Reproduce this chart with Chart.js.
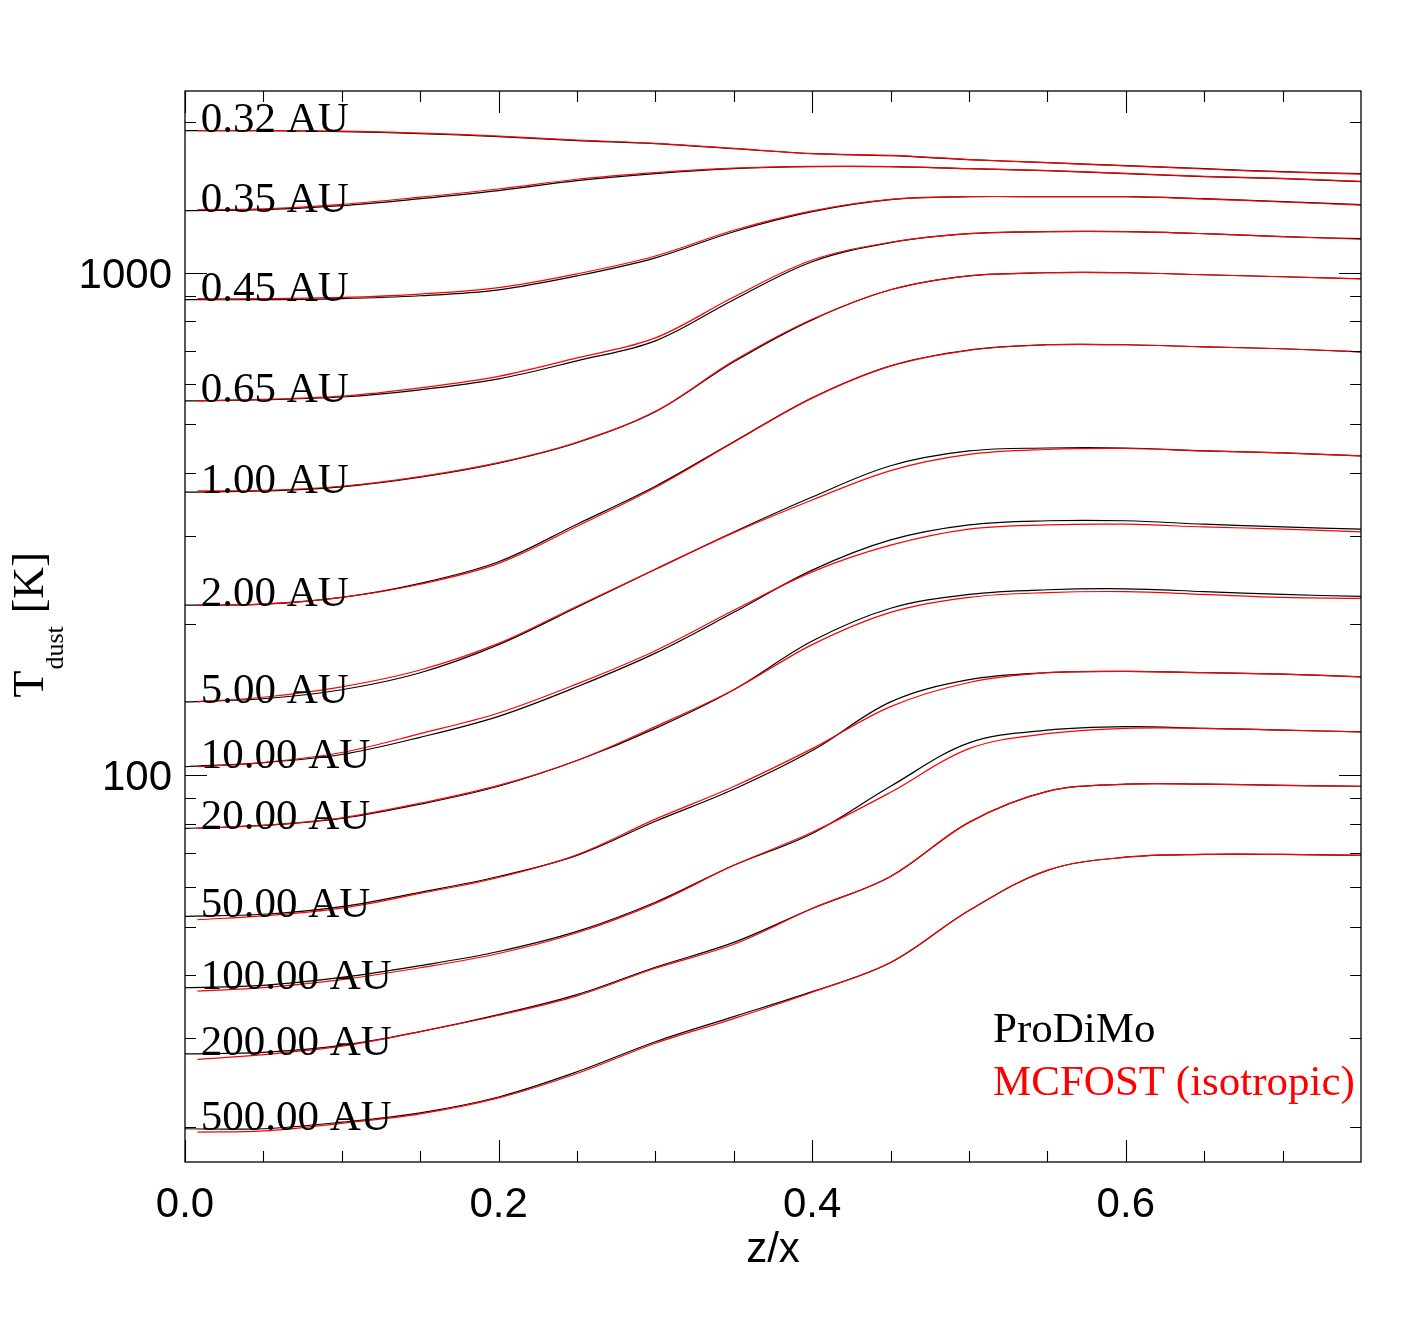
<!DOCTYPE html>
<html>
<head>
<meta charset="utf-8">
<title>T_dust vertical profiles: ProDiMo vs MCFOST</title>
<script src="https://cdn.jsdelivr.net/npm/chart.js@4.4.1/dist/chart.umd.min.js"></script>
<style>
  html, body { margin: 0; padding: 0; background: #ffffff; }
  canvas { display: block; }
</style>
</head>
<body>
<canvas id="tdustChart" width="1417" height="1337"></canvas>
<script>
// z/x sample positions (MCFOST grid starts a touch off the midplane)
const zProdimo = [0.0, 0.05, 0.1, 0.15, 0.2, 0.25, 0.3, 0.35, 0.4, 0.45, 0.5, 0.55, 0.6, 0.65, 0.7, 0.75];
const zMcfost  = [0.008, 0.05, 0.1, 0.15, 0.2, 0.25, 0.3, 0.35, 0.4, 0.45, 0.5, 0.55, 0.6, 0.65, 0.7, 0.75];

const radiusLabels = ['0.32 AU', '0.35 AU', '0.45 AU', '0.65 AU', '1.00 AU', '2.00 AU', '5.00 AU',
                      '10.00 AU', '20.00 AU', '50.00 AU', '100.00 AU', '200.00 AU', '500.00 AU'];

// ProDiMo dust temperature [K]
const prodimo032 = [1918, 1918, 1909, 1892, 1866, 1832, 1807, 1766, 1726, 1710, 1679, 1656, 1634, 1611, 1589, 1575];
const prodimo035 = [1329, 1335, 1360, 1404, 1457, 1525, 1575, 1611, 1626, 1626, 1611, 1597, 1575, 1553, 1539, 1518];
const prodimo045 = [884, 884, 888, 900, 925, 986, 1071, 1207, 1323, 1398, 1417, 1417, 1417, 1404, 1385, 1366];
const prodimo065 = [556, 559, 566, 585, 615, 668, 732, 884, 1052, 1148, 1196, 1207, 1207, 1196, 1180, 1169];
const prodimo1   = [366, 368, 375, 392, 418, 459, 529, 665, 806, 925, 986, 1000, 1000, 991, 982, 973];
const prodimo2   = [218, 219, 226, 241, 266, 316, 376, 461, 564, 653, 702, 719, 719, 712, 706, 696];
const prodimo5   = [140, 142, 148, 160, 182, 216, 257, 305, 358, 413, 442, 448, 448, 442, 438, 432];
const prodimo10  = [104, 106, 110, 119, 131, 150, 175, 211, 256, 294, 315, 321, 321, 316, 312, 309];
const prodimo20  = [78.4, 79.5, 82.1, 87.6, 95.1, 107, 124, 148, 185, 215, 229, 234, 235, 232, 229, 227];
const prodimo50  = [52.4, 52.9, 54.8, 58.5, 62.9, 69.3, 81.0, 93.8, 112, 140, 155, 160, 161, 160, 159, 157];
const prodimo100 = [37.8, 38.2, 39.6, 41.8, 44.6, 48.9, 55.9, 66.2, 76.6, 95.1, 116, 123, 125, 124, 123, 122];
const prodimo200 = [27.9, 28.1, 29.0, 30.9, 33.4, 36.6, 41.5, 46.5, 54.3, 62.9, 80.6, 92.9, 96.0, 96.0, 95.5, 95.1];
const prodimo500 = [19.8, 19.8, 20.4, 21.3, 22.9, 25.7, 29.5, 33.1, 37.1, 42.4, 53.8, 64.7, 68.7, 69.6, 69.6, 69.3];

// MCFOST (isotropic scattering) dust temperature [K]
const mcfost032 = [1918, 1918, 1913, 1897, 1870, 1836, 1810, 1768, 1727, 1712, 1680, 1656, 1632, 1609, 1587, 1572];
const mcfost035 = [1335, 1340, 1368, 1414, 1468, 1535, 1582, 1615, 1628, 1626, 1611, 1597, 1577, 1556, 1541, 1520];
const mcfost045 = [888, 888, 893, 907, 934, 995, 1080, 1215, 1328, 1400, 1417, 1417, 1417, 1402, 1383, 1364];
const mcfost065 = [556, 560, 568, 590, 622, 677, 742, 895, 1060, 1150, 1196, 1207, 1207, 1196, 1180, 1166];
const mcfost1   = [368, 369, 376, 393, 419, 460, 530, 668, 808, 925, 986, 1000, 1000, 991, 982, 972];
const mcfost2   = [218, 219, 226, 240, 264, 313, 374, 460, 563, 652, 701, 719, 719, 712, 706, 696];
const mcfost5   = [140, 143, 150, 162, 183, 217, 257, 304, 353, 404, 435, 445, 447, 442, 438, 432];
const mcfost10  = [104, 106, 111, 121, 133, 152, 177, 213, 254, 287, 309, 315, 316, 312, 309, 305];
const mcfost20  = [78.4, 79.5, 82.3, 88.0, 95.5, 107, 125, 148, 182, 211, 226, 231, 232, 229, 226, 225];
const mcfost50  = [51.6, 52.5, 54.4, 58.2, 62.6, 69.5, 81.8, 95.0, 113, 137, 153, 160, 161, 160, 159, 157];
const mcfost100 = [37.2, 37.8, 39.2, 41.4, 44.2, 48.6, 55.6, 66.2, 77.0, 92.5, 113, 121, 124, 124, 123, 122];
const mcfost200 = [27.2, 27.8, 28.9, 30.9, 33.3, 36.4, 41.3, 46.1, 54.3, 62.9, 80.6, 92.9, 96.0, 96.0, 95.5, 95.1];
const mcfost500 = [19.5, 19.6, 20.3, 21.2, 22.8, 25.5, 29.3, 32.8, 37.0, 42.4, 53.8, 64.7, 68.7, 69.6, 69.6, 69.3];

const prodimoSeries = [prodimo032, prodimo035, prodimo045, prodimo065, prodimo1, prodimo2, prodimo5,
                       prodimo10, prodimo20, prodimo50, prodimo100, prodimo200, prodimo500];
const mcfostSeries = [mcfost032, mcfost035, mcfost045, mcfost065, mcfost1, mcfost2, mcfost5,
                      mcfost10, mcfost20, mcfost50, mcfost100, mcfost200, mcfost500];

// axis ticks
const xMajorTicks = [0.0, 0.2, 0.4, 0.6];
const xTickLabels = ['0.0', '0.2', '0.4', '0.6'];
const xMinorTicks = [0.05, 0.1, 0.15, 0.25, 0.3, 0.35, 0.45, 0.5, 0.55, 0.65, 0.7];
const yMajorTicks = [100, 1000];
const yTickLabels = ['100', '1000'];
const yMinorTicks = [20, 30, 40, 50, 60, 70, 80, 90, 200, 300, 400, 500, 600, 700, 800, 900, 2000];

const SANS = '"Liberation Sans", Arial, sans-serif';
const SERIF = '"Liberation Serif", "Times New Roman", serif';

// IDL-style frame: box with inward ticks on all four sides, plus all the text
const idlFrame = {
    id: 'idlFrame',
    afterDraw(chart) {
        const ctx = chart.ctx;
        const { left, right, top, bottom } = chart.chartArea;
        const xs = chart.scales.x;
        const ys = chart.scales.y;
        const majorLen = 22, minorLen = 11;

        ctx.save();
        ctx.strokeStyle = '#000';
        ctx.lineWidth = 1.3;
        ctx.strokeRect(left, top, right - left, bottom - top);

        ctx.beginPath();
        const xTick = (v, len) => {
            const px = Math.round(xs.getPixelForValue(v)) + 0.5;
            ctx.moveTo(px, bottom); ctx.lineTo(px, bottom - len);
            ctx.moveTo(px, top); ctx.lineTo(px, top + len);
        };
        const yTick = (v, len) => {
            const py = Math.round(ys.getPixelForValue(v)) + 0.5;
            ctx.moveTo(left, py); ctx.lineTo(left + len, py);
            ctx.moveTo(right, py); ctx.lineTo(right - len, py);
        };
        xMajorTicks.forEach(v => xTick(v, majorLen));
        xMinorTicks.forEach(v => xTick(v, minorLen));
        yMajorTicks.forEach(v => yTick(v, majorLen));
        yMinorTicks.forEach(v => yTick(v, minorLen));
        ctx.lineWidth = 1.1;
        ctx.stroke();

        // tick labels
        ctx.fillStyle = '#000';
        ctx.font = '42px ' + SANS;
        ctx.textAlign = 'center';
        ctx.textBaseline = 'alphabetic';
        xMajorTicks.forEach((v, i) => ctx.fillText(xTickLabels[i], xs.getPixelForValue(v), bottom + 55));
        ctx.textAlign = 'right';
        yMajorTicks.forEach((v, i) => ctx.fillText(yTickLabels[i], left - 13, ys.getPixelForValue(v) + 15));

        // x title
        ctx.textAlign = 'center';
        ctx.fillText('z/x', (left + right) / 2, bottom + 100);

        // y title with subscript, rotated
        ctx.save();
        ctx.translate(left - 142, (top + bottom) / 2 + 71);
        ctx.rotate(-Math.PI / 2);
        ctx.textAlign = 'left';
        ctx.font = '44px ' + SERIF;
        ctx.fillText('T', 0, 0);
        const tW = ctx.measureText('T').width;
        ctx.font = '26px ' + SERIF;
        ctx.fillText('dust', tW + 1, 20);
        const dW = ctx.measureText('dust').width;
        ctx.font = '44px ' + SERIF;
        ctx.fillText('[K]', tW + dW + 14, 0);
        ctx.restore();

        // radius labels sit on the midplane value of each profile
        ctx.font = '43px ' + SERIF;
        ctx.textAlign = 'left';
        radiusLabels.forEach((lab, i) => {
            ctx.fillText(lab, xs.getPixelForValue(0.01), ys.getPixelForValue(prodimoSeries[i][0]) + 1);
        });

        // legend text
        ctx.fillStyle = '#000';
        ctx.fillText('ProDiMo', right - 368, bottom - 120);
        ctx.fillStyle = '#ff0000';
        ctx.fillText('MCFOST (isotropic)', right - 368, bottom - 67);
        ctx.restore();
    }
};

const datasets = [];
radiusLabels.forEach((lab, i) => {
    datasets.push({
        label: 'ProDiMo ' + lab,
        data: zProdimo.map((z, j) => ({ x: z, y: prodimoSeries[i][j] })),
        borderColor: '#000000',
        order: 2
    });
    datasets.push({
        label: 'MCFOST ' + lab,
        data: zMcfost.map((z, j) => ({ x: z, y: mcfostSeries[i][j] })),
        borderColor: '#ff0000',
        order: 1
    });
});

new Chart(document.getElementById('tdustChart').getContext('2d'), {
    type: 'line',
    data: { datasets: datasets },
    options: {
        responsive: false,
        devicePixelRatio: 1,
        animation: false,
        layout: { padding: { left: 185, right: 56, top: 91, bottom: 175 } },
        plugins: {
            legend: { display: false },
            tooltip: { enabled: false }
        },
        elements: {
            point: { radius: 0 },
            line: { borderWidth: 1.2, fill: false, tension: 0.35 }
        },
        scales: {
            x: { type: 'linear', min: 0, max: 0.75, display: false },
            y: { type: 'logarithmic', min: 17, max: 2300, display: false }
        }
    },
    plugins: [idlFrame]
});
</script>
</body>
</html>
